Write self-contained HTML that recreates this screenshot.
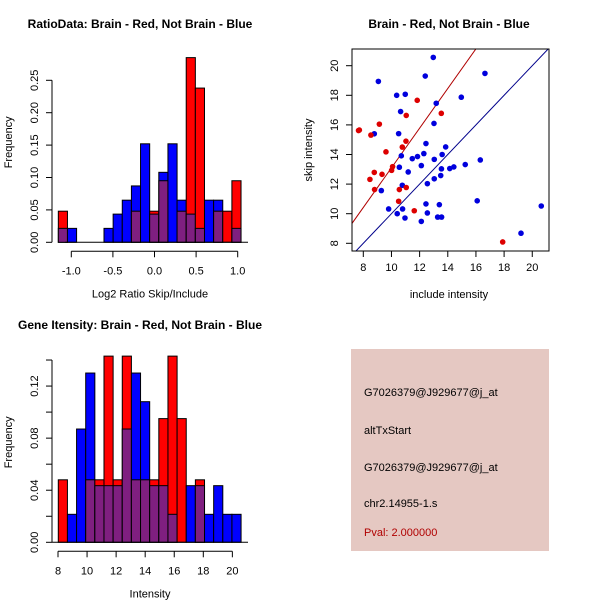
<!DOCTYPE html>
<html><head><meta charset="utf-8"><style>
body{margin:0;background:#fff;}
svg{display:block;font-family:"Liberation Sans",sans-serif;}
</style></head><body>
<svg id="c" width="600" height="600" viewBox="0 0 600 600">
<rect x="351" y="349" width="198" height="202" fill="#e5c8c2"/>
<g font-size="11">
<text x="364" y="396" fill="#000">G7026379@J929677@j_at</text>
<text x="364" y="434" fill="#000">altTxStart</text>
<text x="364" y="471" fill="#000">G7026379@J929677@j_at</text>
<text x="364" y="507" fill="#000">chr2.14955-1.s</text>
<text x="364" y="536" fill="#b00000">Pval: 2.000000</text>
</g>
</svg>
<script>
// ---- Ratio histogram data ----
const ratioBreakStart = -1.156, ratioBinWidth = 0.1098;
const ratioRed  = [0.048,0,0,0,0,0,0,0,0.048,0,0.048,0.095,0,0.048,0.285,0.238,0,0.048,0.048,0.095];
const ratioBlue = [0.0215,0.0215,0,0,0,0.0215,0.0435,0.065,0.087,0.152,0.0435,0.108,0.152,0.065,0.0435,0.0215,0.065,0.065,0,0.0215];
const ratioXTicks = [-1.0,-0.5,0.0,0.5,1.0];
const ratioXLabels = ["-1.0","-0.5","0.0","0.5","1.0"];
const ratioYTicks = [0,0.05,0.10,0.15,0.20,0.25];
const ratioYLabels = ["0.00","0.05","0.10","0.15","0.20","0.25"];
// ---- Intensity histogram data ----
const intBreakStart = 8.02, intBinWidth = 0.629;
const intRed  = [0.048,0,0,0.048,0.048,0.143,0.048,0.143,0.048,0.048,0.048,0.095,0.143,0.095,0,0.048,0,0,0,0];
const intBlue = [0,0.0215,0.087,0.13,0.0435,0.0435,0.0435,0.087,0.13,0.108,0.0435,0.0435,0.0215,0,0.0435,0.0435,0.0215,0.0435,0.0215,0.0215];
const intXTicks = [8,10,12,14,16,18,20];
const intYTicks = [0,0.02,0.04,0.06,0.08,0.10,0.12,0.14];
const intYLabels = ["0.00","","0.04","","0.08","","0.12",""];
// ---- Scatter data ----
const blueX = [12.97,16.64,9.07,12.4,10.37,10.98,14.96,13.18,10.65,13.02,8.78,10.51,12.45,13.85,10.7,12.3,11.48,11.85,13.6,13.04,16.31,10.56,12.12,15.24,11.19,13.55,14.14,14.43,13.5,13.04,9.28,10.77,12.55,16.09,9.8,10.79,12.45,13.4,20.64,10.41,12.55,10.96,12.12,13.28,13.56,19.2];
const blueY = [20.56,19.48,18.94,19.3,18.0,18.07,17.87,17.46,16.9,16.1,15.4,15.41,14.74,14.51,13.91,14.06,13.72,13.86,14.0,13.67,13.63,13.14,13.25,13.32,12.82,13.03,13.05,13.16,12.58,12.36,11.56,11.92,12.03,10.87,10.32,10.32,10.66,10.61,10.52,10.0,10.05,9.71,9.48,9.77,9.77,8.68];
const redX = [7.72,7.66,8.54,9.14,11.83,11.05,13.54,9.61,11.03,10.77,8.78,9.33,8.47,10.08,10.01,8.8,10.56,11.05,10.51,11.62,17.9];
const redY = [15.65,15.62,15.31,16.05,17.66,16.64,16.78,14.18,14.9,14.5,12.79,12.66,12.32,13.18,12.93,11.63,11.63,11.77,10.84,10.2,8.09];
const scTicks = [8,10,12,14,16,18,20];
const redSlope = 1.34, redIntercept = -0.3;

const NS="http://www.w3.org/2000/svg";
const svg=document.getElementById('c');
function mk(tag,attrs,parent){const e=document.createElementNS(NS,tag);for(const k in attrs)e.setAttribute(k,attrs[k]);(parent||svg).appendChild(e);return e;}
function txt(s,attrs,parent){const e=mk('text',attrs,parent);e.textContent=s;return e;}
const PURPLE="#7f1f80";

function histogram(o){
  const g=mk('g',{});
  
  
  const X=v=>o.x0+(v-o.xd0)*o.xs, Y=v=>o.y0-v*o.ys;
  for(let i=0;i<o.red.length;i++){
    const l=X(o.bs+i*o.bw), r=X(o.bs+(i+1)*o.bw);
    const rv=o.red[i], bv=o.blue[i], hi=Math.max(rv,bv), lo=Math.min(rv,bv);
    if(hi>0){
      const b=mk('rect',{x:l,y:Y(hi),width:r-l,height:Y(0)-Y(hi),fill:rv>bv?'#ff0000':'#0000ff',stroke:'#000','stroke-width':1},g);
      
      
    }
    if(lo>0){
      const p=mk('rect',{x:l,y:Y(lo),width:r-l,height:Y(0)-Y(lo),fill:PURPLE,stroke:'#000','stroke-width':1},g);
      
      
    }
  }
  mk('line',{x1:o.x0-6,x2:248,y1:Y(0),y2:Y(0),stroke:'#000'},g);
  // y axis
  const ya=mk('g',{},g);
  
  
  mk('line',{x1:52,x2:52,y1:Y(o.yt[0]),y2:Y(o.yt[o.yt.length-1]),stroke:'#000'},ya);
  o.yt.forEach((v,i)=>{mk('line',{x1:46,x2:52,y1:Y(v),y2:Y(v),stroke:'#000'},ya);
    if(o.yl[i]){const t=txt(o.yl[i],{x:38,y:Y(v),'font-size':11,'text-anchor':'middle',transform:`rotate(-90 38 ${Y(v)})`},ya);}});
  // x axis
  const xa=mk('g',{},g);
  
  
  const ay=o.y0+9;
  mk('line',{x1:X(o.xt[0]),x2:X(o.xt[o.xt.length-1]),y1:ay,y2:ay,stroke:'#000'},xa);
  o.xt.forEach((v,i)=>{mk('line',{x1:X(v),x2:X(v),y1:ay,y2:ay+6,stroke:'#000'},xa);
    txt(o.xl[i],{x:X(v),y:ay+23,'font-size':11,'text-anchor':'middle'},xa);});
  const tt=txt(o.title,{x:140,y:o.titleY,'font-size':12,'font-weight':'bold','text-anchor':'middle'});
  
  
  const xl=txt(o.xlabel,{x:150,y:o.y0+55,'font-size':11,'text-anchor':'middle'});
  
  
  const yy=o.y0-100;
  const yl=txt('Frequency',{x:12,y:yy,'font-size':11,'text-anchor':'middle',transform:`rotate(-90 12 ${yy})`});
  
  
}

histogram({name:'ratio-histogram',red:ratioRed,blue:ratioBlue,bs:ratioBreakStart,bw:ratioBinWidth,
  x0:71.3,xd0:-1,xs:83.2,y0:242.3,ys:648,yt:ratioYTicks,yl:ratioYLabels,xt:ratioXTicks,xl:ratioXLabels,
  title:'RatioData: Brain - Red, Not Brain - Blue',titleY:28,xlabel:'Log2 Ratio Skip/Include'});
histogram({name:'intensity-histogram',red:intRed,blue:intBlue,bs:intBreakStart,bw:intBinWidth,
  x0:58,xd0:8,xs:14.53,y0:542.3,ys:1302,yt:intYTicks,yl:intYLabels,xt:intXTicks,xl:intXTicks.map(String),
  title:'Gene Itensity: Brain - Red, Not Brain - Blue',titleY:329,xlabel:'Intensity'});

// scatter
(function(){
  const g=mk('g',{});
  
  
  const px0=352,px1=549,py0=49,py1=251;
  const X=v=>363.3+(v-8)*14.08, Y=v=>243.3-(v-8)*14.8;
  const xmin=(px0-363.3)/14.08+8, xmax=(px1-363.3)/14.08+8;
  const cp=mk('clipPath',{id:'scclip'},g);mk('rect',{x:px0,y:py0,width:px1-px0,height:py1-py0},cp);
  const lines=mk('g',{'clip-path':'url(#scclip)'},g);
  const bl=mk('line',{x1:X(xmin),y1:Y(xmin),x2:X(xmax),y2:Y(xmax),stroke:'#00008b','stroke-width':1},lines);
  
  
  const rl=mk('line',{x1:X(xmin),y1:Y(redSlope*xmin+redIntercept),x2:X(xmax),y2:Y(redSlope*xmax+redIntercept),stroke:'#b00000','stroke-width':1},lines);
  
  
  blueX.forEach((x,i)=>{const c=mk('circle',{cx:X(x),cy:Y(blueY[i]),r:2.8,fill:'#0000dd'},g);
    
    });
  redX.forEach((x,i)=>{const c=mk('circle',{cx:X(x),cy:Y(redY[i]),r:2.8,fill:'#dd0000'},g);
    
    });
  mk('rect',{x:px0,y:py0,width:px1-px0,height:py1-py0,fill:'none',stroke:'#000'},g);
  scTicks.forEach(v=>{
    mk('line',{x1:X(v),x2:X(v),y1:py1,y2:py1+6,stroke:'#000'},g);
    txt(String(v),{x:X(v),y:py1+20,'font-size':11,'text-anchor':'middle'},g);
    mk('line',{x1:px0-6,x2:px0,y1:Y(v),y2:Y(v),stroke:'#000'},g);
    txt(String(v),{x:338,y:Y(v),'font-size':11,'text-anchor':'middle',transform:`rotate(-90 338 ${Y(v)})`},g);
  });
  const t=txt('Brain - Red, Not Brain - Blue',{x:449,y:28,'font-size':12,'font-weight':'bold','text-anchor':'middle'});
  
  
  const xl=txt('include intensity',{x:449,y:298,'font-size':11,'text-anchor':'middle'});
  
  
  const yl=txt('skip intensity',{x:312,y:150,'font-size':11,'text-anchor':'middle',transform:'rotate(-90 312 150)'});
  
  
})();
</script>
</body></html>
